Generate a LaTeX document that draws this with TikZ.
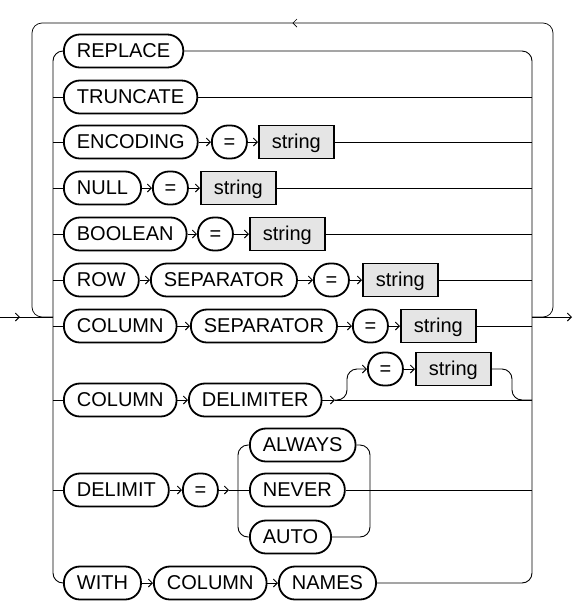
\documentclass[tikz,border=0pt]{standalone}
\usepackage{fontspec}
\setmainfont{Liberation Sans}
\usepackage{tikz}
\usetikzlibrary{arrows.meta,decorations.markings}

\tikzset{
  >={Straight Barb[length=4pt,width=8pt]},
  rail/.style={line width=0.9pt},
  kw/.style={draw,line width=1.8pt,rounded corners=16pt,anchor=west,
    minimum height=33pt,inner xsep=13pt,inner ysep=0pt,
    text height=16pt,text depth=4pt,font=\fontsize{20}{24}\selectfont},
  op/.style={kw,minimum width=35pt,inner xsep=6pt},
  lit/.style={kw,rounded corners=0pt,fill=gray!20},
  loopmark/.style={postaction={decorate},decoration={markings,
    mark=at position 0.5 with {\arrow{>}}}}
}

\begin{document}
\begin{tikzpicture}[x=1pt,y=-1pt]
				\useasboundingbox (0,0) rectangle (573,603);

				% junctions of the main line
				\coordinate (start) at (0,317);
				\coordinate (in) at (53,317);
				\coordinate (out) at (532,317);
				\coordinate (end) at (572,317);
				\coordinate (loopr) at (553,317);
				\coordinate (loopl) at (32,317);
				\coordinate (tr) at (553,23);
				\coordinate (tl) at (32,23);

				\node[kw] (replace) at (63,51) {REPLACE};
				\node[kw] (truncate) at (63,97) {TRUNCATE};

				\node[kw] (encoding) at (63,142) {ENCODING};
				\node[op] (eq3) at (211,142) {=};
				\node[lit] (str3) at (258,142) {string};

				\node[kw] (null) at (63,188) {NULL};
				\node[op] (eq4) at (152,188) {=};
				\node[lit] (str4) at (200,188) {string};

				\node[kw] (boolean) at (63,234) {BOOLEAN};
				\node[op] (eq5) at (197,234) {=};
				\node[lit] (str5) at (249,234) {string};

				\node[kw] (row) at (63,280) {ROW};
				\node[kw] (sep6) at (150,280) {SEPARATOR};
				\node[op] (eq6) at (313,280) {=};
				\node[lit] (str6) at (362,280) {string};

				\node[kw] (col7) at (63,326) {COLUMN};
				\node[kw] (sep7) at (190,326) {SEPARATOR};
				\node[op] (eq7) at (352,326) {=};
				\node[lit] (str7) at (400,326) {string};

				\node[kw] (col8) at (63,400) {COLUMN};
				\node[kw] (delimiter) at (188,400) {DELIMITER};
				\node[op] (eq8) at (367,369) {=};
				\node[lit] (str8) at (415,369) {string};
				\coordinate (s8) at (335,400);
				\coordinate (b8) at (347,400);
				\coordinate (j8) at (512,400);

				\node[kw] (delimit) at (63,490) {DELIMIT};
				\node[op] (eq9) at (182,490) {=};
				\node[kw] (always) at (249,445) {ALWAYS};
				\node[kw] (never) at (249,490) {NEVER};
				\node[kw] (auto) at (249,537) {AUTO};
				\coordinate (s9) at (229,490);
				\coordinate (jl9) at (238,490);
				\coordinate (jr9) at (370,490);

				\node[kw] (with) at (63,583) {WITH};
				\node[kw] (col10) at (153,583) {COLUMN};
				\node[kw] (names) at (278,583) {NAMES};

				% entry, exit and the repeat loop
				\draw[rail,postaction={decorate},decoration={markings,
				  mark=at position 20pt with {\arrow{>}}}] (start) -- (in);
				\draw[rail,->] (out) -- (end);
				\draw[rail,line width=0.7pt,rounded corners=10,loopmark]
				  (out) -- (loopr) -- (tr) -- (tl) -- (loopl) -- (in);

				% the two rails of the choice
				\draw[rail,rounded corners=10] (replace.west) -| (in) |- (with.west);
				\draw[rail,rounded corners=10] (replace.east) -| (out) |- (names.east);
				\foreach \n in {truncate,encoding,null,boolean,row,col7,col8,delimit}
				  \draw[rail] (in |- \n.west) -- (\n.west);
				\foreach \n in {truncate,str3,str4,str5,str6,str7,never}
				  \draw[rail] (\n.east) -- (out |- \n.east);

				\foreach \a/\b in {encoding/eq3,eq3/str3,null/eq4,eq4/str4,
				  boolean/eq5,eq5/str5,row/sep6,sep6/eq6,eq6/str6,
				  col7/sep7,sep7/eq7,eq7/str7,col8/delimiter,eq8/str8,
				  delimit/eq9,with/col10,col10/names}
				  \draw[rail,->] (\a.east) -- (\b.west);

				% optional = string
				\draw[rail,->] (delimiter.east) -- (s8);
				\draw[rail] (s8) -- (out |- s8);
				\draw[rail,rounded corners=10,->] (s8) -- (b8) |- (eq8.west);
				\draw[rail,rounded corners=10] (str8.east) -| (j8) -- (out |- j8);

				% ALWAYS / NEVER / AUTO
				\draw[rail,->] (eq9.east) -- (s9);
				\draw[rail] (s9) -- (never.west);
				\draw[rail,rounded corners=10] (always.west) -| (jl9) |- (auto.west);
				\draw[rail,rounded corners=10] (always.east) -| (jr9) |- (auto.east);
			\end{tikzpicture}
\end{document}
